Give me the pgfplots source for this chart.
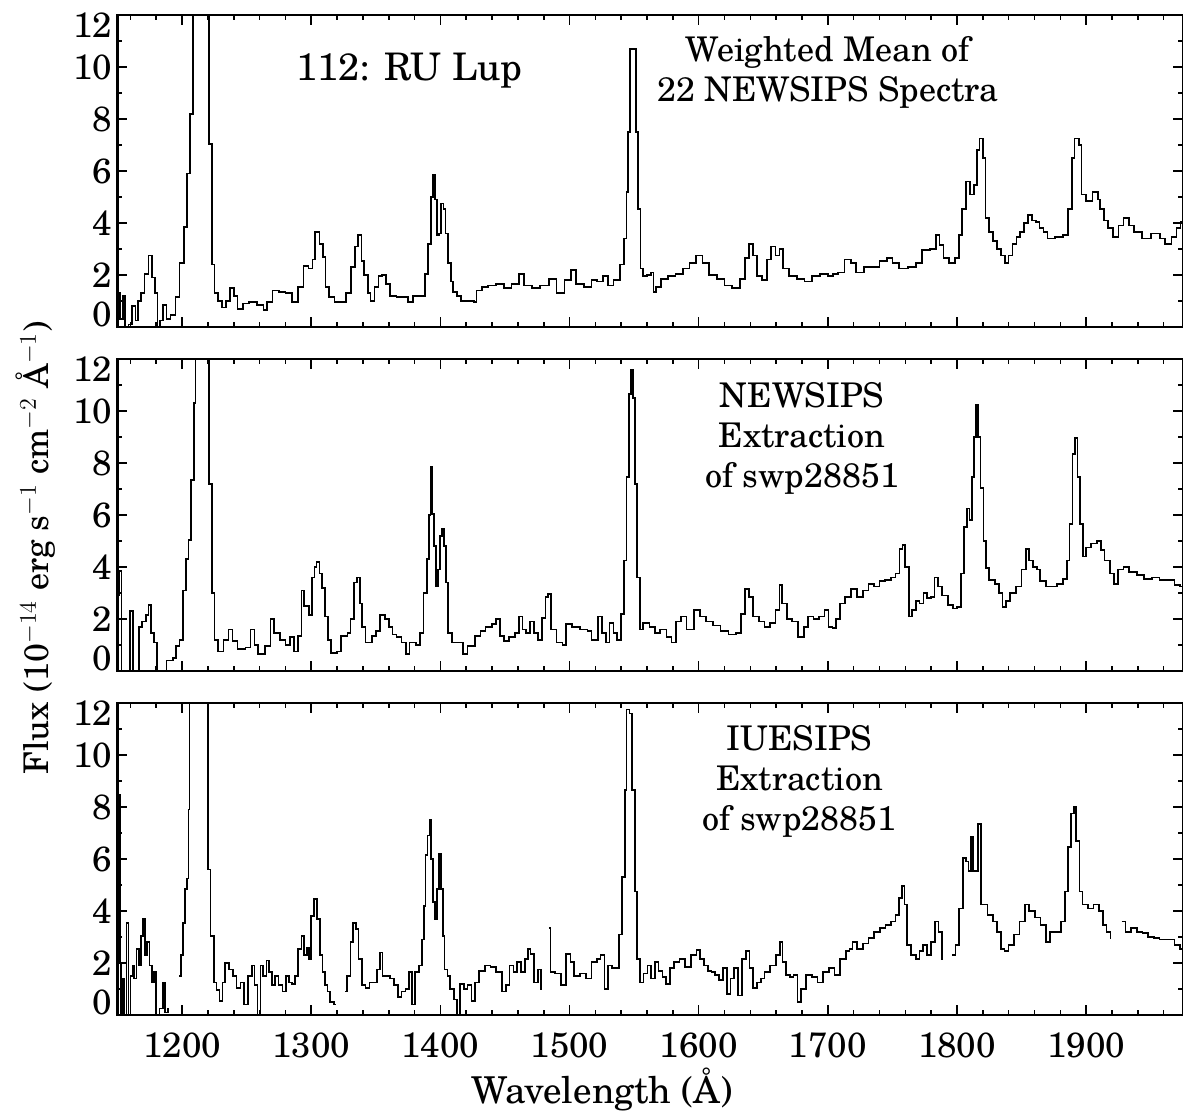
\documentclass[border=0pt]{standalone}
\usepackage{fontspec}
\setmainfont{TeX Gyre Schola}
\usepackage{pgfplots}
\pgfplotsset{compat=1.18}
\usepackage{pgfplotstable}

\pgfplotstableread{
x y
1150 1.3
1152 0.3
1154 1.2
1156 -0.3
1158.5 0.1
1161 0.8
1164 0.25
1166 1.0
1168 1.3
1171 2.05
1174 2.75
1176.5 1.9
1179 1.3
1181 -0.3
1183 0.25
1185.5 0.85
1188 0.3
1191 0.45
1195 1.15
1198 2.45
1201.5 3.85
1204 5.9
1206 8.2
1208.5 20
1221 7.05
1223 2.4
1225 1.3
1228 1.0
1231 0.75
1234 1.0
1237 1.5
1240 1.2
1243 0.7
1247 0.9
1252 0.95
1258 0.85
1263 0.65
1266 0.95
1270 1.4
1275 1.35
1280 1.3
1285 0.95
1290 1.55
1294 2.35
1298 2.25
1301 2.6
1303 3.65
1306.5 3.2
1309 2.7
1311 1.55
1314 1.15
1318 0.95
1324 0.95
1327 1.3
1331 2.3
1334 3.1
1336 3.55
1339 2.55
1341 2.0
1344 1.3
1346 1.0
1349 1.55
1352 1.95
1355 2.0
1358 1.65
1361 1.2
1366 1.15
1372 1.15
1375 0.95
1379 1.2
1386 1.2
1388 2.05
1390.5 3.2
1392.5 5.0
1394.5 5.85
1396 4.9
1397.5 3.55
1399 3.6
1400.5 4.75
1402.5 4.55
1404 3.6
1406 2.45
1408 1.75
1410 1.35
1413 1.2
1416 1.0
1426 0.95
1428 1.4
1432 1.55
1437 1.6
1443 1.65
1449 1.5
1455 1.65
1461 2.05
1465 1.6
1471 1.5
1477 1.6
1484 1.85
1490 1.3
1496 1.8
1501 2.2
1505 1.65
1511 1.55
1517 1.8
1521 1.75
1526 1.95
1530 1.6
1534 1.8
1539 2.4
1542 3.4
1544 5.2
1545.5 7.5
1547 10.7
1551.5 7.5
1553 4.55
1555 2.25
1557 1.95
1560 2.0
1563 2.1
1565 1.35
1567 1.55
1571 1.85
1576 1.95
1582 2.05
1588 2.25
1593 2.45
1598 2.75
1603 2.45
1608 2.0
1614 1.85
1620 1.6
1626 1.5
1632 1.85
1636 2.65
1639 3.2
1642 2.75
1645 1.95
1649 1.8
1653 2.6
1656 3.1
1659.5 2.75
1662.5 3.0
1665.5 2.25
1670 1.95
1676 1.85
1682 1.75
1688 1.95
1694 2.05
1700 1.95
1704 2.05
1708 2.1
1713 2.6
1718 2.45
1722 2.1
1728 2.3
1734 2.3
1740 2.55
1746 2.65
1750 2.45
1755 2.25
1762 2.3
1768 2.45
1773 2.95
1779 3.0
1783.5 3.55
1786.5 3.15
1789.5 2.65
1794 2.45
1798.5 2.65
1801.5 3.55
1804 4.55
1807 5.6
1810 5.1
1813 5.45
1815.5 6.8
1817.5 7.25
1820 6.5
1822 4.2
1825 3.65
1828 3.3
1831 3.0
1834 2.75
1837 2.45
1840 2.75
1843 3.2
1846 3.45
1849 3.65
1852 4.0
1855 4.3
1858 4.1
1861 4.05
1864 3.8
1867 3.65
1870 3.4
1876 3.45
1882 3.55
1886 4.55
1889 6.5
1891 7.25
1894.5 7.0
1896.5 5.1
1900 4.85
1905 5.2
1909 4.9
1911 4.55
1914 4.1
1917 3.8
1921 3.45
1925 3.9
1929 4.2
1933 3.9
1937 3.65
1943 3.4
1950 3.6
1957 3.4
1961 3.2
1966 3.45
1970 3.8
1973 4.05
1975 4.05
}\dataA

\pgfplotstableread{
x y
1150 2.9
1151.5 3.85
1153 -0.3
1159.5 2.3
1162 -0.3
1166.5 1.7
1169 1.9
1172 2.15
1174 2.55
1176 1.45
1178 1.1
1180.5 -0.3
1188 0.4
1193 0.5
1195.5 0.95
1198 1.2
1200.5 3.1
1203 4.3
1205 5.05
1207 7.35
1209 10.3
1210.5 20
1220.8 7.2
1223 3.0
1225 1.2
1228 0.75
1232 1.2
1236 1.6
1239 1.15
1243 0.85
1249 0.9
1253 1.6
1256 1.0
1259 0.65
1264 0.95
1268.5 2.0
1271 1.45
1276 1.2
1280 1.0
1283.5 1.3
1286.5 0.75
1289.5 1.35
1292.5 3.1
1294.5 2.5
1298.5 2.15
1300.5 3.6
1302.5 4.0
1304 4.2
1306.5 3.75
1308.5 3.2
1310.5 2.1
1313 1.2
1315.5 0.7
1320 0.75
1323 1.35
1328 1.45
1330.5 2.0
1333 3.4
1335.5 3.6
1337.5 2.6
1339.5 1.7
1342 1.1
1347 1.35
1350 1.55
1353 2.15
1357 2.0
1360 1.7
1363 1.4
1366 1.3
1370 1.1
1373.5 0.65
1376 1.1
1381 1.0
1384 1.45
1387 3.0
1389.5 4.3
1391 6.0
1392.3 7.85
1393.7 6.05
1395.3 4.8
1396.8 3.25
1398.3 3.9
1399.7 5.2
1401.2 5.45
1402.8 4.8
1404.3 3.4
1406 1.45
1409 1.1
1417.5 0.65
1421 0.95
1427 1.35
1431 1.55
1435 1.7
1440 1.8
1443 2.0
1446 1.35
1449 1.15
1453 1.3
1458 1.45
1461 2.1
1463.5 1.6
1466.5 1.45
1469.5 1.9
1472.5 1.45
1475.5 1.2
1478.5 2.05
1481.5 2.85
1483.5 2.95
1485.5 1.6
1490 1.1
1494.5 1.0
1497.5 1.8
1502 1.7
1508 1.6
1514 1.55
1517 1.2
1522 2.1
1525 1.45
1528 1.1
1531 1.85
1534 1.45
1537 1.2
1540 2.2
1542 4.25
1544 7.45
1546 10.65
1547.5 11.6
1549 10.5
1550.5 7.2
1552.3 3.6
1554.3 1.6
1557 1.85
1562 1.7
1566 1.45
1570 1.6
1575 1.3
1579 1.1
1582.5 1.9
1586.5 2.1
1590.5 1.6
1596.5 2.35
1601 2.1
1605.5 1.9
1611 1.75
1617 1.55
1623 1.4
1629 1.45
1633 2.2
1636 3.15
1639 2.85
1642 2.1
1646.5 1.9
1651 1.7
1655 1.85
1659.5 2.35
1662.5 3.3
1664.7 2.6
1668.5 2.0
1672.5 1.9
1677 1.3
1681.5 1.7
1684.5 2.1
1689 2.0
1693 2.1
1697.5 2.35
1700.5 1.7
1703.5 1.65
1706.5 2.0
1709.5 2.6
1713.5 2.85
1718 3.15
1722.5 2.85
1727 3.1
1731.5 3.35
1735.5 3.25
1740 3.45
1744.5 3.5
1749 3.6
1752.5 3.75
1755.5 4.7
1757.7 4.85
1760 4.0
1763 2.1
1765 2.35
1768 2.7
1771 2.6
1774 3.0
1776.7 2.8
1779.7 2.85
1782.7 3.6
1785.5 3.25
1788.5 2.9
1793 2.55
1797 2.4
1800 2.45
1803 3.75
1805.5 5.55
1807.5 6.25
1809.8 5.8
1811.8 7.45
1813.3 9.0
1814.8 10.25
1816.3 9.0
1818.3 7.05
1820.6 5.0
1822.2 3.95
1825 3.5
1829.5 3.35
1832.5 3.0
1835.3 2.45
1838.2 2.7
1841 3.0
1845.5 3.25
1850 3.9
1853.7 4.7
1855.8 4.25
1858.7 4.0
1861.7 3.9
1864.5 3.45
1869 3.25
1873.5 3.25
1877.7 3.35
1882 3.55
1885 4.25
1887.2 5.65
1889.5 8.35
1891.5 8.95
1893.3 7.45
1895.3 5.65
1897.4 4.4
1899.7 4.75
1904 4.9
1908.4 5.0
1911.3 4.65
1914.3 4.25
1918.7 3.75
1921.6 3.35
1924.5 3.9
1929 4.0
1933.3 3.8
1939.2 3.7
1945 3.55
1951 3.6
1956.7 3.5
1962.6 3.5
1968.4 3.3
1972.7 3.25
1975 3.25
}\dataB

\pgfplotstableread{
x y
1150 -0.3
1150.7 8.45
1151.7 2.0
1152.7 -0.3
1154 1.4
1155.5 -0.3
1157 3.55
1158.5 -0.3
1160 1.5
1161.5 1.9
1163 1.4
1164.7 2.55
1166.5 1.9
1168.3 3.05
1169.7 3.7
1171.3 2.3
1173 2.8
1174.7 1.9
1176.7 1.25
1178 1.65
1179.6 -0.3
1182.5 0.25
1185.5 1.25
1186.9 0.1
1189 0.25
1190 0.25
1190 nan
1197.9 1.5
1199.4 2.3
1200.7 3.55
1202.3 4.85
1203.7 5.25
1205 7.9
1205.8 20
1220.1 5.6
1222 3.05
1224.5 1.25
1226.7 0.95
1228.9 0.55
1231.3 1.25
1233.3 2.0
1236.3 1.75
1239.2 1.5
1242.2 1.05
1245.2 1.25
1248.1 0.4
1251.1 1.5
1254 1.9
1256.1 1.15
1258.5 -0.3
1260.7 1.9
1262.9 1.5
1265.3 2.1
1267.3 1.65
1269.4 1.15
1271.7 1.5
1274.7 1.15
1277.7 0.9
1280.7 1.5
1283 1.25
1285.1 1.2
1287.2 1.5
1289.5 2.55
1292.5 3.05
1294.5 2.3
1296.9 2.6
1298.4 2.15
1299.9 3.8
1301.9 4.45
1304.3 3.7
1306.7 2.3
1308.7 1.65
1310.7 1.15
1312.7 0.9
1314.7 0.5
1317.7 0.4
1319 0.4
1319 nan
1326.5 0.9
1327.9 1.5
1330.3 2.8
1332.4 3.55
1334.4 3.3
1336.7 2.15
1339.2 1.15
1342.1 1.05
1345.1 1.25
1348 1.25
1351 1.75
1353.1 2.4
1355.1 1.5
1358.1 1.5
1361.1 1.4
1364 1.15
1367 0.7
1369.9 0.9
1372.9 1.0
1375.8 1.65
1378.2 0.4
1380.6 1.65
1383.5 1.9
1385.6 2.9
1387.1 4.2
1388.5 6.15
1390 6.9
1391.5 7.5
1393 6.0
1394.5 4.35
1395.9 3.7
1397.4 4.85
1398.9 6.2
1400.4 4.85
1401.8 3.05
1403.3 1.75
1405.4 1.5
1407.7 1.0
1410.7 0.6
1413.1 -0.3
1415.1 1.2
1418.1 1.0
1421.1 1.15
1424 0.55
1427 1.25
1429.9 1.7
1434.4 1.9
1438.8 1.85
1443.2 1.65
1447.7 0.9
1450.7 1.15
1453.6 1.9
1456.5 1.65
1459.5 2.05
1462.5 1.65
1465.4 2.15
1467.7 2.55
1469.8 2.35
1472.7 1.25
1475.7 1.75
1478.1 1.0
1479 1.0
1479 nan
1484 3.35
1485.2 1.65
1489 1.6
1493.4 1.15
1497 2.35
1500.7 2.05
1503.7 1.5
1508.2 1.6
1512.7 1.4
1517 2.05
1521 2.15
1524 2.3
1527 1.0
1530 1.9
1532.7 1.8
1536 1.8
1538.3 3.1
1540.7 5.3
1542.8 8.65
1544.2 11.75
1546.5 11.6
1548.6 8.65
1550.6 4.75
1552.4 2.15
1554.4 1.25
1557.3 1.6
1560.3 1.9
1563.2 1.4
1566.1 2.05
1569 1.7
1572 1.45
1574.9 1.2
1577.8 1.8
1580.8 2.05
1585.1 2.15
1589.5 1.85
1593.9 2.3
1598.3 2.5
1601.2 2.15
1604.2 1.9
1607.1 1.7
1610 1.65
1612.9 1.55
1615.9 1.35
1618.8 1.8
1621.7 0.8
1624.7 1.4
1627.6 1.8
1630.5 0.75
1633.4 2.15
1636.4 2.45
1639.3 1.8
1642.2 1.05
1645.1 1.25
1648.1 1.4
1651 1.65
1655.4 1.9
1659.8 2.3
1662.7 2.8
1664.8 2.05
1667.7 1.55
1670.6 1.45
1673.5 1.55
1676.4 0.5
1679.4 1.0
1683.2 1.55
1687.6 1.45
1692 1.25
1696.3 1.65
1700.8 1.8
1705.1 1.55
1709.5 2.15
1713.9 2.45
1716.8 2.55
1719.2 2.8
1722.7 2.55
1727.1 2.75
1731.5 2.95
1735.8 3.2
1740.2 3.35
1744.6 3.45
1749 3.6
1752.5 3.85
1754.9 4.5
1757.2 4.95
1759.3 4.25
1761.3 2.7
1764.2 2.3
1768 2.15
1771 2.45
1773.9 2.7
1776.8 2.3
1779.8 2.8
1782.8 3.6
1785.6 3.2
1788.5 2.15
1789.5 2.15
1789.5 nan
1796.4 2.3
1798.8 2.7
1801.7 4.1
1804.6 6.05
1807 5.9
1809 5.55
1811.1 6.85
1812.5 5.55
1816.5 7.35
1818.5 4.25
1823.7 3.85
1828 3.6
1831 3.2
1833.9 2.55
1836.8 2.45
1839.8 2.7
1844.1 3.1
1848.5 3.6
1852.9 4.25
1855.8 4.0
1860.2 3.75
1864.6 3.45
1869 2.8
1871.9 3.2
1876.3 3.2
1880.7 3.6
1883.6 4.75
1886 6.45
1888.3 7.75
1890.7 8.0
1892.4 6.7
1894.8 4.75
1897.1 4.25
1901.2 4.1
1905.6 4.25
1910 4.0
1912.9 3.45
1915.8 3.2
1918.8 2.95
1919.5 2.95
1919.5 nan
1927.5 3.6
1930.5 3.2
1934.8 3.35
1939.3 3.2
1943.6 3.15
1948 3.0
1952.4 2.95
1956.8 2.9
1962.7 2.9
1968.5 2.7
1972.8 2.55
1975 2.55
}\dataC

\pgfplotsset{
  panel/.style={
    scale only axis, width=532.75pt, height=156pt,
    xmin=1150, xmax=1975, ymin=0, ymax=12,
    xtick={1200,1300,...,1900},
    minor xtick={1160,1180,...,1960},
    ytick={2,4,...,10},
    minor ytick={1,3,...,11},
    extra y ticks={0.48,11.62},
    extra y tick labels={0,12},
    extra y tick style={major tick length=0pt},
    tick align=inside,
    major tick length=5pt, minor tick length=2.5pt,
    every tick/.style={black, line width=0.8pt},
    axis line style={line width=1.1pt},
    tick label style={font=\fontsize{17.5}{20}\selectfont},
    yticklabel style={xshift=1pt},
    xticklabel style={yshift=-5.5pt},
    /pgf/number format/assume math mode=true,
    /pgf/number format/1000 sep={},
    unbounded coords=jump,
    clip=true,
  },
  spec/.style={const plot, black, line width=0.85pt, mark=none},
}

\begin{document}
\begin{tikzpicture}
\useasboundingbox (-58.75pt,-394.5pt) rectangle (532.75pt,163.5pt);

\begin{axis}[panel, at={(0,0)}, anchor=south west, xticklabels={}]
\addplot[spec] table[x=x,y=y] {\dataA};
\node[font=\fontsize{19}{22}\selectfont] at (axis cs:1376,9.88) {112: RU Lup};
\node[font=\fontsize{17}{20}\selectfont, align=center] at (axis cs:1700,9.79) {Weighted Mean of\\22 NEWSIPS Spectra};
\end{axis}

\begin{axis}[panel, at={(0,-172pt)}, anchor=south west, xticklabels={},
  ylabel={Flux (10$^{-14}$ erg s$^{-1}$ cm$^{-2}$ Å$^{-1}$)},
  every axis y label/.style={at={(axis description cs:-0.077,0.395)}, rotate=90, anchor=center, font=\fontsize{17}{20}\selectfont}]
\addplot[spec] table[x=x,y=y] {\dataB};
\node[font=\fontsize{17}{20}\selectfont, align=center] at (axis cs:1680,8.96) {NEWSIPS\\Extraction\\of swp28851};
\end{axis}

\begin{axis}[panel, at={(0,-344pt)}, anchor=south west,
  xlabel={Wavelength (Å)},
  every axis x label/.style={at={(axis description cs:0.455,-0.283)}, anchor=base, font=\fontsize{18.5}{22}\selectfont}]
\addplot[spec] table[x=x,y=y] {\dataC};
\node[font=\fontsize{17}{20}\selectfont, align=center] at (axis cs:1678,9.0) {IUESIPS\\Extraction\\of swp28851};
\end{axis}
\end{tikzpicture}
\end{document}
